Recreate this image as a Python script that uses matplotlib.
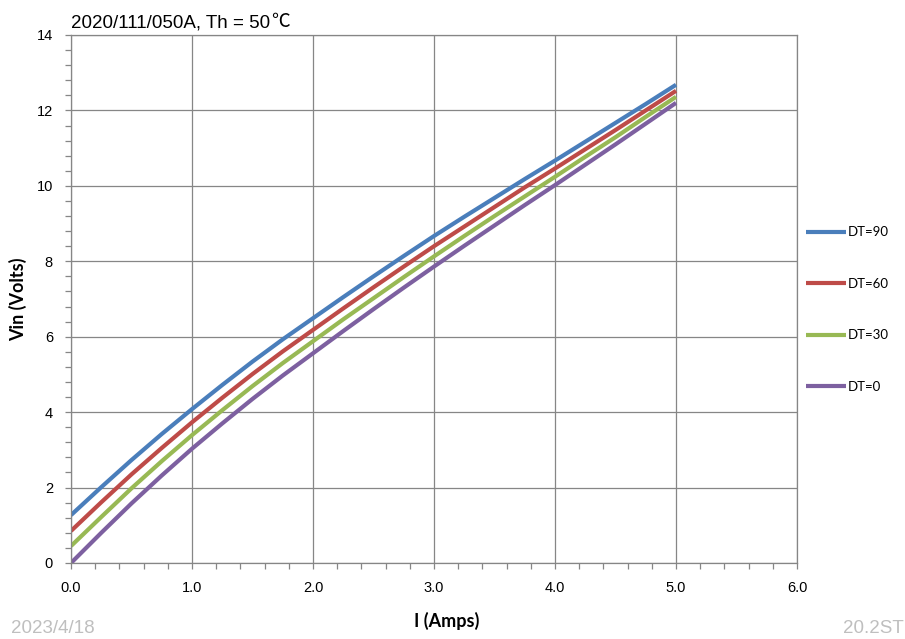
import matplotlib
matplotlib.use('Agg')
import matplotlib.pyplot as plt
from matplotlib.ticker import MultipleLocator, FormatStrFormatter

# 0.25 A steps
amps = [0.0, 0.25, 0.5, 0.75, 1.0, 1.25, 1.5, 1.75, 2.0, 2.25, 2.5,
        2.75, 3.0, 3.25, 3.5, 3.75, 4.0, 4.25, 4.5, 4.75, 5.0]
dt90 = [1.27, 2.01, 2.73, 3.42, 4.08, 4.72, 5.34, 5.93, 6.49, 7.05, 7.60,
        8.14, 8.67, 9.18, 9.68, 10.18, 10.67, 11.17, 11.67, 12.17, 12.68]
dt60 = [0.85, 1.61, 2.35, 3.05, 3.73, 4.38, 5.01, 5.61, 6.18, 6.75, 7.31,
        7.86, 8.40, 8.92, 9.44, 9.96, 10.46, 10.97, 11.48, 12.00, 12.52]
dt30 = [0.45, 1.22, 1.98, 2.70, 3.39, 4.05, 4.69, 5.30, 5.88, 6.46, 7.02,
        7.58, 8.13, 8.67, 9.20, 9.72, 10.24, 10.77, 11.29, 11.83, 12.36]
dt0 = [0.00, 0.80, 1.58, 2.32, 3.03, 3.70, 4.35, 4.97, 5.56, 6.15, 6.73,
       7.30, 7.86, 8.41, 8.95, 9.49, 10.02, 10.56, 11.10, 11.65, 12.20]
series = [("DT=90", dt90, "#4a7ebb"),
          ("DT=60", dt60, "#be4b48"),
          ("DT=30", dt30, "#98b954"),
          ("DT=0", dt0, "#7d60a0")]

title = "2020/111/050A, Th = 50"
degc = "\u2103"
date_txt = "2023/4/18"
ref_txt = "20.2ST"

W, H = 905, 639
fig = plt.figure(figsize=(W / 100, H / 100), dpi=100)
ax = fig.add_axes([71 / W, 1 - 563 / H, (797 - 71) / W, (563 - 35) / H])

grey = "#868686"
for name, vals, col in series:
    ax.plot(amps, vals, color=col, lw=3.0, label=name, solid_capstyle='butt')

ax.set_xlim(0, 6)
ax.set_ylim(0, 14)
ax.xaxis.set_major_locator(MultipleLocator(1))
ax.xaxis.set_minor_locator(MultipleLocator(0.2))
ax.yaxis.set_major_locator(MultipleLocator(2))
ax.yaxis.set_minor_locator(MultipleLocator(0.4))
ax.xaxis.set_major_formatter(FormatStrFormatter('%.1f'))
ax.grid(True, which='major', color=grey, lw=0.9)
for s in ax.spines.values():
    s.set_color(grey)
    s.set_linewidth(0.9)
ax.tick_params(which='both', direction='out', color=grey, width=0.9, length=4,
               labelsize=10.5, labelfontfamily='Liberation Sans')
ax.tick_params(axis='y', which='both', pad=9)
ax.tick_params(axis='x', which='both', pad=9)

ax.set_ylabel("Vin (Volts)", fontsize=13, fontweight='bold', family='Lato',
              ha='center', va='center')
ax.set_xlabel("I (Amps)", fontsize=13, fontweight='bold', family='Lato',
              ha='center', va='center')
ax.yaxis.set_label_coords((18 - 71) / 726, 0.5)
ax.xaxis.set_label_coords((447 - 71) / 726, (563 - 621) / 528)

t = fig.text(71 / W, 1 - 27 / H, title, fontsize=13.5, va='baseline', ha='left',
             family='Liberation Sans')
fig.canvas.draw()
bb = t.get_window_extent(renderer=fig.canvas.get_renderer())
fig.text(bb.x1 / W + 1 / W, 1 - 27 / H, degc, fontsize=13.5, va='baseline',
         ha='left', family='Noto Sans CJK SC', fontweight='light')

fig.legend(loc='center left', bbox_to_anchor=(806 / W, 1 - 309.5 / H),
           frameon=False, borderpad=0, borderaxespad=0,
           handlelength=3.0, handletextpad=0.2, labelspacing=3.0,
           prop={'family': 'Lato', 'size': 9.5})

fig.text(11 / W, 1 - 633 / H, date_txt, fontsize=13.5, color="#bfbfbf",
         family='Liberation Sans', va='baseline')
fig.text(843 / W, 1 - 633 / H, ref_txt, fontsize=13.5, color="#bfbfbf",
         family='Liberation Sans', va='baseline')

fig.savefig("out.png", dpi=100)
